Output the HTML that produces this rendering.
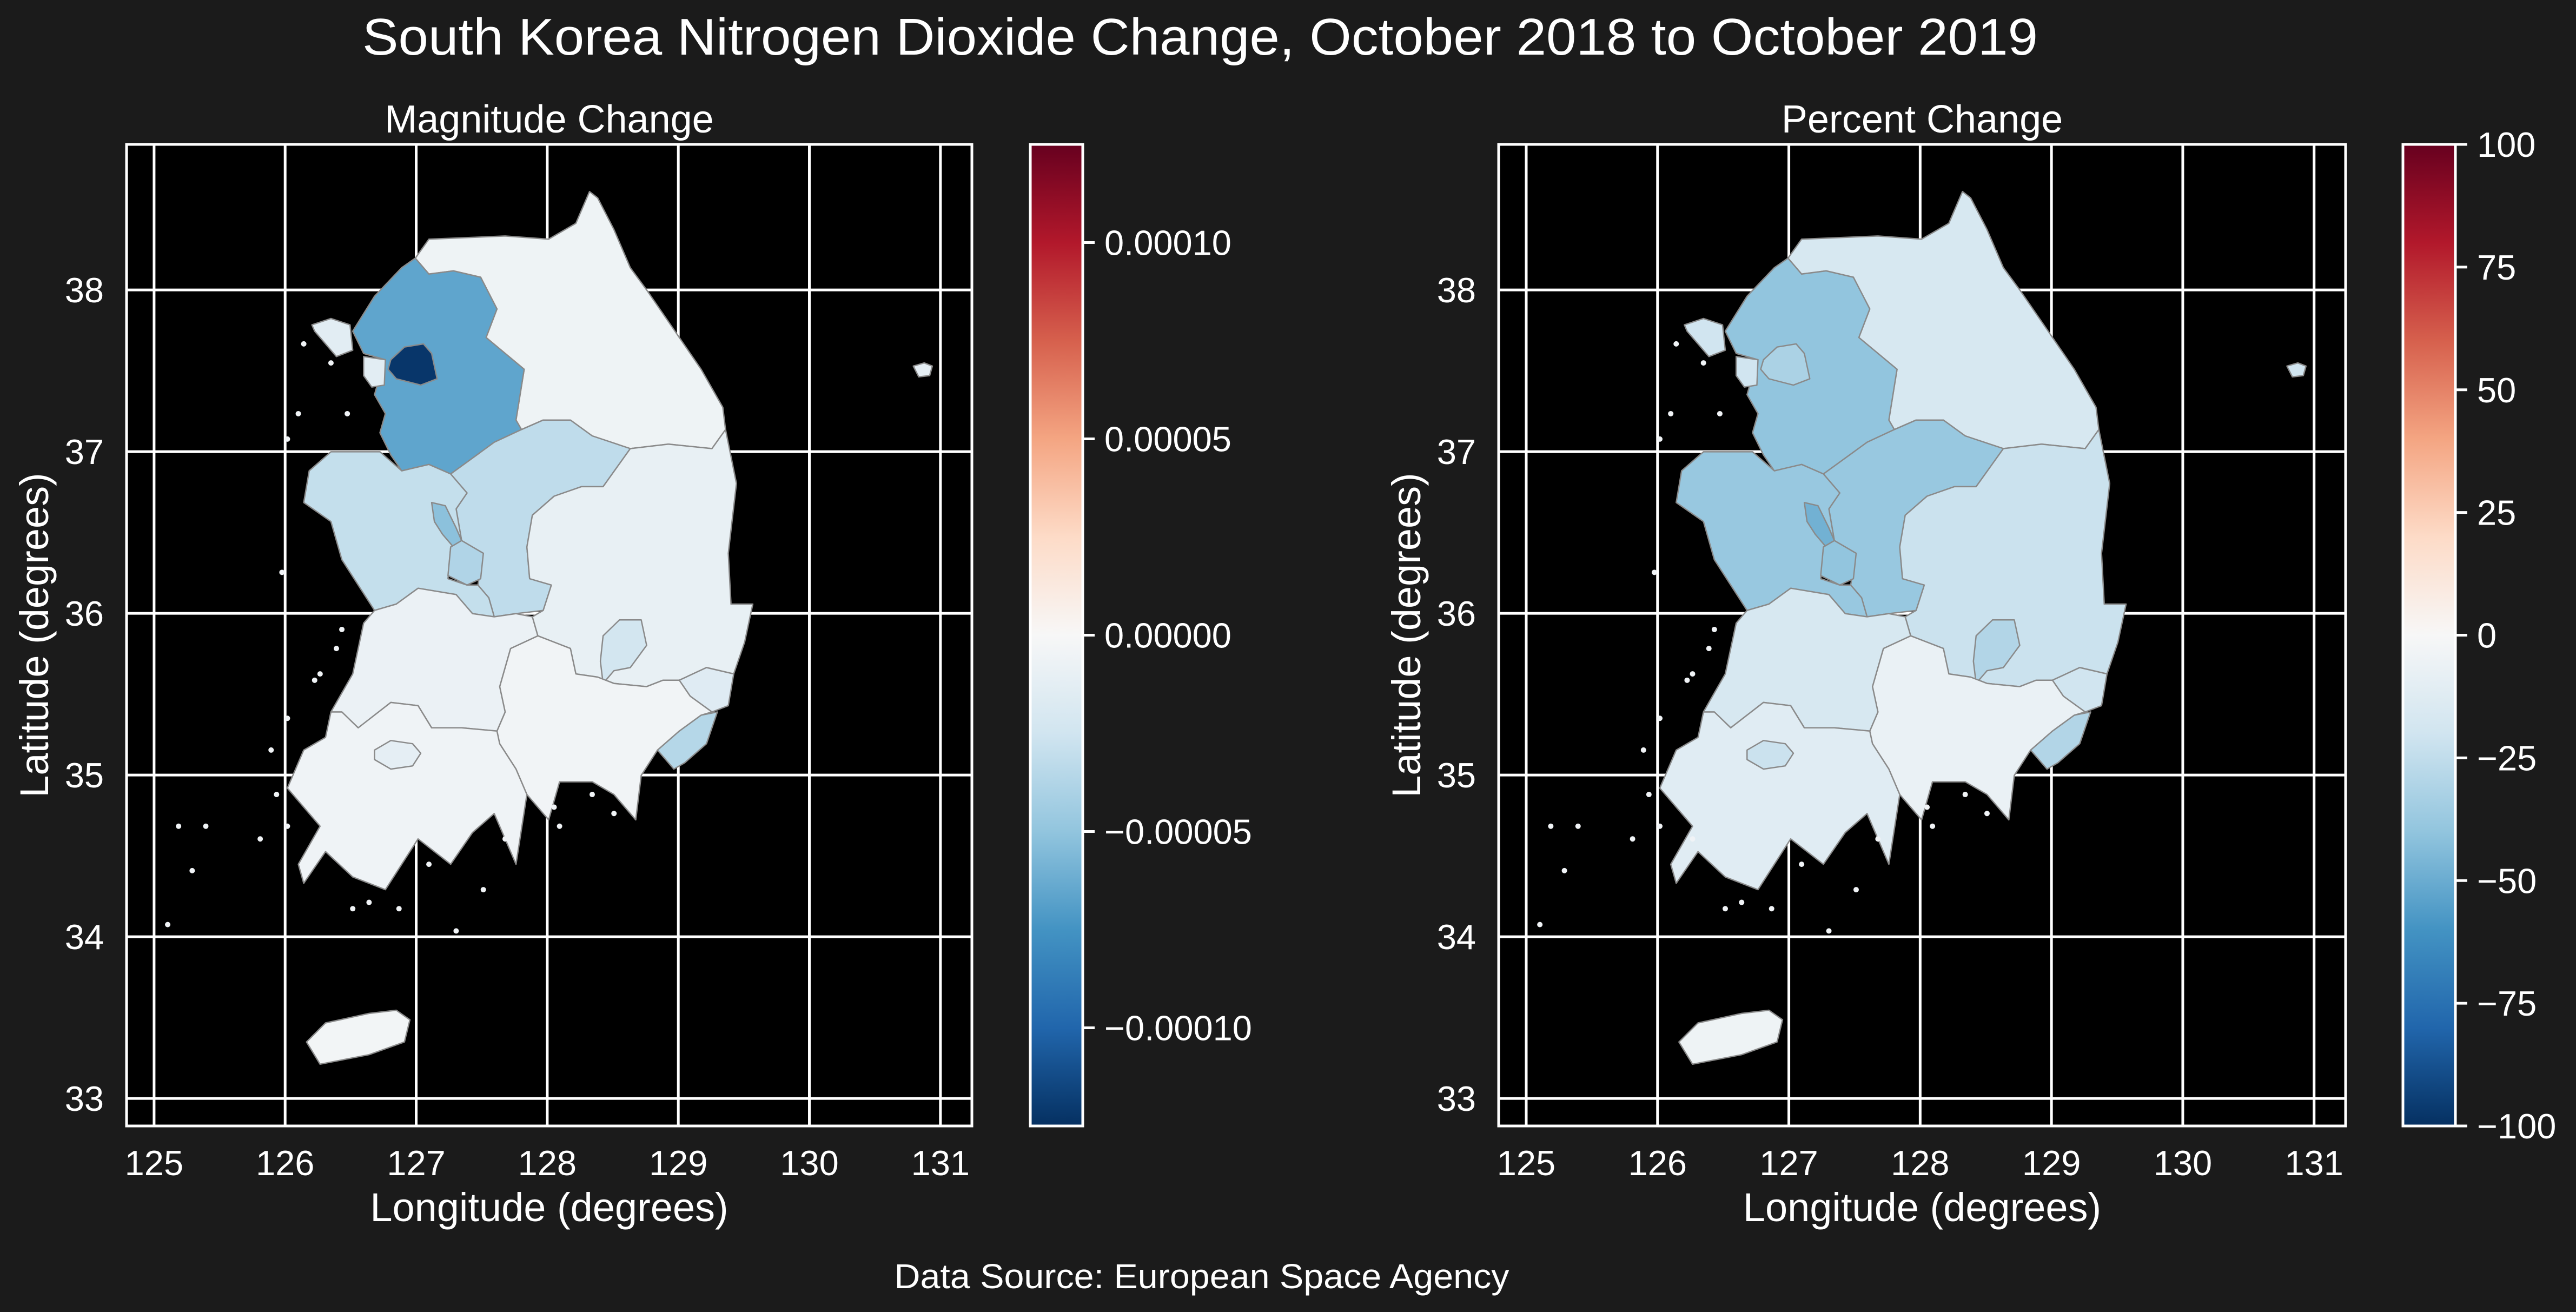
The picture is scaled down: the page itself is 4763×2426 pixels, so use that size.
<!DOCTYPE html>
<html><head><meta charset="utf-8"><style>
html,body{margin:0;padding:0;background:#1b1b1b;}
svg{display:block;font-family:"Liberation Sans",Arial,sans-serif;}
</style></head><body>
<svg id="fig" width="4763" height="2426" viewBox="0 0 4763 2426" xmlns="http://www.w3.org/2000/svg">
<defs>
<linearGradient id="rdbu" x1="0" y1="1" x2="0" y2="0">
<stop offset="0" stop-color="#053061"/><stop offset="0.1" stop-color="#2166ac"/><stop offset="0.2" stop-color="#4393c3"/><stop offset="0.3" stop-color="#92c5de"/><stop offset="0.4" stop-color="#d1e5f0"/><stop offset="0.5" stop-color="#f7f7f7"/><stop offset="0.6" stop-color="#fddbc7"/><stop offset="0.7" stop-color="#f4a582"/><stop offset="0.8" stop-color="#d6604d"/><stop offset="0.9" stop-color="#b2182b"/><stop offset="1" stop-color="#67001f"/>
</linearGradient>
<clipPath id="clipL"><rect x="234" y="267" width="1563" height="1815"/></clipPath>
<clipPath id="clipR"><rect x="2771" y="267" width="1566" height="1815"/></clipPath>
</defs>
<rect x="0" y="0" width="4763" height="2426" fill="#1b1b1b"/>
<text x="2219" y="101" font-size="96" fill="#fff" text-anchor="middle" textLength="3098" lengthAdjust="spacingAndGlyphs">South Korea Nitrogen Dioxide Change, October 2018 to October 2019</text>
<text x="2222" y="2382" font-size="64" fill="#fff" text-anchor="middle" textLength="1137" lengthAdjust="spacingAndGlyphs">Data Source: European Space Agency</text>
<g id="panels"></g>
</svg>
<script>
// Region names and values
const regions = ["gangwon","gyeonggi","seoul","incheon","ganghwa","chungbuk","chungnam","sejong","daejeon","gyeongbuk","daegu","ulsan","busan","gyeongnam","jeonbuk","jeonnam","gwangju","jeju","ulleung"];
const magnitudeValues = [-0.000006,-0.000066,-0.000122,-0.000014,-0.000014,-0.000032,-0.000030,-0.000052,-0.000038,-0.000010,-0.000024,-0.000016,-0.000036,-0.000004,-0.000008,-0.000005,-0.000012,-0.000003,-0.000012];
const percentValues = [-17,-40,-32,-20,-20,-38,-38,-48,-40,-22,-30,-20,-30,-7,-17,-12,-22,-5,-20];
const lonTicks = [125,126,127,128,129,130,131];
const latTicks = [33,34,35,36,37,38];
const magTicks = [-0.0001,-0.00005,0,0.00005,0.0001];
const magTickLabels = ["\u22120.00010","\u22120.00005","0.00000","0.00005","0.00010"];
const pctTicks = [-100,-75,-50,-25,0,25,50,75,100];
const pctTickLabels = ["\u2212100","\u221275","\u221250","\u221225","0","25","50","75","100"];
// Region outlines traced in reference-grid units (gx,gy); converted to lon/lat by gridToLon/gridToLat
const shapes = {
gangwon:[[560,155],[700,150],[780,155],[830,130],[855,80],[870,90],[900,140],[930,200],[960,235],[1020,310],[1060,360],[1100,420],[1105,455],[1080,485],[1000,478],[930,485],[860,465],[820,440],[770,440],[730,455],[720,440],[735,360],[665,310],[685,265],[655,215],[605,205],[560,210],[535,185]],
gyeonggi:[[535,185],[560,210],[605,205],[655,215],[685,265],[665,310],[735,360],[720,440],[730,455],[680,475],[640,500],[600,525],[560,510],[510,520],[490,495],[470,460],[480,430],[460,400],[470,370],[480,345],[440,335],[420,300],[460,245],[510,200]],
seoul:[[490,345],[515,325],[550,320],[565,335],[575,375],[545,385],[500,375],[485,360]],
incheon:[[440,340],[480,345],[478,385],[455,388],[440,370]],
ganghwa:[[345,290],[380,280],[415,290],[420,330],[390,340],[350,300]],
chungbuk:[[600,525],[640,500],[680,475],[730,455],[770,440],[820,440],[860,465],[930,485],[880,545],[840,545],[790,560],[750,590],[740,640],[745,690],[785,700],[770,740],[720,745],[680,750],[670,720],[650,700],[660,650],[620,630],[610,580],[630,555]],
chungnam:[[510,520],[560,510],[600,525],[630,555],[610,580],[620,630],[600,640],[595,690],[630,700],[650,700],[670,720],[680,750],[640,745],[610,715],[540,705],[500,730],[460,740],[430,700],[400,660],[380,600],[330,570],[340,520],[380,490],[470,490]],
sejong:[[565,570],[590,575],[610,610],[620,630],[605,640],[585,620],[570,600]],
daejeon:[[600,640],[620,630],[660,650],[655,690],[630,700],[595,685]],
gyeongbuk:[[930,485],[1000,478],[1080,485],[1105,455],[1125,540],[1110,650],[1115,730],[1155,730],[1140,790],[1120,840],[1070,830],[1020,850],[990,850],[960,860],[900,855],[870,845],[830,840],[820,800],[760,780],[750,750],[770,740],[785,700],[745,690],[740,640],[750,590],[790,560],[840,545],[880,545]],
daegu:[[880,780],[910,755],[950,755],[960,795],[930,830],[900,835],[880,855],[875,820]],
ulsan:[[1020,850],[1070,830],[1120,840],[1110,890],[1080,900],[1040,875]],
busan:[[980,960],[1020,930],[1060,905],[1090,900],[1070,950],[1030,980],[1010,990]],
gyeongnam:[[760,780],[820,800],[830,840],[870,845],[900,855],[960,860],[990,850],[1020,850],[1040,875],[1080,900],[1060,905],[1020,930],[980,960],[950,1000],[940,1070],[900,1030],[860,1010],[800,1010],[780,1070],[740,1030],[720,990],[690,950],[685,930],[700,900],[690,860],[710,800]],
jeonbuk:[[460,740],[500,730],[540,705],[610,715],[640,745],[680,750],[720,745],[750,750],[760,780],[710,800],[690,860],[700,900],[685,930],[620,925],[565,925],[540,890],[490,885],[430,925],[400,900],[380,900],[400,870],[420,840],[430,800],[440,760]],
jeonnam:[[380,900],[400,900],[430,925],[490,885],[540,890],[565,925],[620,925],[685,930],[690,950],[720,990],[740,1030],[720,1140],[680,1060],[640,1090],[600,1140],[540,1100],[480,1180],[420,1160],[370,1120],[330,1170],[320,1140],[360,1080],[300,1020],[330,960],[370,940]],
gwangju:[[460,960],[490,945],[530,950],[545,965],[530,985],[490,990],[460,975]],
jeju:[[335,1420],[370,1390],[450,1375],[500,1370],[525,1385],[515,1420],[450,1440],[360,1455]],
ulleung:[[1450,355],[1470,350],[1485,355],[1480,370],[1460,372]]
};
// small coastal islets (grid units)
const islets = [[300,470],[320,430],[290,680],[300,910],[350,850],[270,960],[280,1030],[300,1080],[150,1080],[100,1080],[125,1150],[80,1235],[420,1210],[505,1210],[610,1245],[790,1050],[860,1030],[900,1060],[560,1140],[450,1200],[360,1100],[250,1100],[700,1100],[660,1180],[400,770],[390,800],[360,840],[410,430],[380,350],[330,320],[800,1080]];
const gridToLon = gx => 125 + (gx - 55) / 240.8;
const gridToLat = gy => 38 - (gy - 235) / 254.8;

const STOPS = ["#053061","#2166ac","#4393c3","#92c5de","#d1e5f0","#f7f7f7","#fddbc7","#f4a582","#d6604d","#b2182b","#67001f"];
function hex(h){return [1,3,5].map(i=>parseInt(h.substr(i,2),16));}
function cmap(t){
  t=Math.max(0,Math.min(1,t));const p=t*10;const i=Math.min(9,Math.floor(p));const f=p-i;
  const a=hex(STOPS[i]),b=hex(STOPS[i+1]);
  return "rgb("+a.map((v,k)=>Math.round(v+(b[k]-v)*f)).join(",")+")";
}
const NS="http://www.w3.org/2000/svg";
const root=document.getElementById("panels");
function mk(tag,attrs,parent){const e=document.createElementNS(NS,tag);for(const k in attrs)e.setAttribute(k,attrs[k]);(parent||root).appendChild(e);return e;}

const LON0=124.79, LON1=131.24, LAT0=32.83, LAT1=38.90;
function panel(cfg){
  const {x0,x1,y0,y1}=cfg;
  const sx=lon=>x0+(lon-LON0)/(LON1-LON0)*(x1-x0);
  const sy=lat=>y1-(lat-LAT0)/(LAT1-LAT0)*(y1-y0);
  const g=mk("g",{});
  
  
  const bg=mk("rect",{x:x0,y:y0,width:x1-x0,height:y1-y0,fill:"#000"},g);
  
  
  const grid=mk("g",{stroke:"#fff","stroke-width":5},g);
  
  
  lonTicks.forEach(v=>{mk("line",{x1:sx(v),x2:sx(v),y1:y0,y2:y1},grid);});
  latTicks.forEach(v=>{mk("line",{x1:x0,x2:x1,y1:sy(v),y2:sy(v)},grid);});
  const map=mk("g",{"clip-path":"url(#"+cfg.clip+")"},g);
  
  
  regions.forEach((r,i)=>{
    const pts=shapes[r].map(p=>sx(gridToLon(p[0])).toFixed(1)+","+sy(gridToLat(p[1])).toFixed(1)).join(" ");
    const pol=mk("polygon",{points:pts,fill:cmap((cfg.values[i]-cfg.vmin)/(cfg.vmax-cfg.vmin)),stroke:"#8a8a8a","stroke-width":2.5,"stroke-linejoin":"round"},map);
    
    
  });
  islets.forEach(p=>{
    const c=mk("circle",{cx:sx(gridToLon(p[0])),cy:sy(gridToLat(p[1])),r:5,fill:"#f0f3f6"},map);
    
    
  });
  const fr=mk("rect",{x:x0,y:y0,width:x1-x0,height:y1-y0,fill:"none",stroke:"#fff","stroke-width":5},g);
  
  
  lonTicks.forEach(v=>{
    const t=mk("text",{x:sx(v),y:y1+91,"font-size":65,fill:"#fff","text-anchor":"middle"},g);t.textContent=v;
    
    
  });
  latTicks.forEach(v=>{
    const t=mk("text",{x:x0-42,y:sy(v)+23,"font-size":65,fill:"#fff","text-anchor":"end"},g);t.textContent=v;
    
    
  });
  const xl=mk("text",{x:(x0+x1)/2,y:y1+176,"font-size":74,fill:"#fff","text-anchor":"middle"},g);xl.textContent="Longitude (degrees)";
  
  
  const yl=mk("text",{x:0,y:0,"font-size":74,fill:"#fff","text-anchor":"middle",transform:"translate("+(x0-145)+","+((y0+y1)/2)+") rotate(-90)"},g);yl.textContent="Latitude (degrees)";
  
  
  const tl=mk("text",{x:(x0+x1)/2,y:y0-22,"font-size":72,fill:"#fff","text-anchor":"middle"},g);tl.textContent=cfg.title;
  
  
  // colorbar
  const cb=mk("g",{},g);
  
  
  const cbx0=cfg.cbx, cbx1=cfg.cbx+97;
  mk("rect",{x:cbx0,y:y0,width:97,height:y1-y0,fill:"url(#rdbu)",stroke:"#fff","stroke-width":5},cb);
  const cy=v=>y1-(v-cfg.vmin)/(cfg.vmax-cfg.vmin)*(y1-y0);
  cfg.ticks.forEach((v,i)=>{
    mk("line",{x1:cbx1,x2:cbx1+22,y1:cy(v),y2:cy(v),stroke:"#fff","stroke-width":5},cb);
    const t=mk("text",{x:cbx1+40,y:cy(v)+23,"font-size":65,fill:"#fff"},cb);t.textContent=cfg.tickLabels[i];
    
    
  });
}
panel({name:"magnitude",x0:234,x1:1797,y0:267,y1:2082,clip:"clipL",title:"Magnitude Change",values:magnitudeValues,vmin:-0.000125,vmax:0.000125,cbx:1905,ticks:magTicks,tickLabels:magTickLabels});
panel({name:"percent",x0:2771,x1:4337,y0:267,y1:2082,clip:"clipR",title:"Percent Change",values:percentValues,vmin:-100,vmax:100,cbx:4443,ticks:pctTicks,tickLabels:pctTickLabels});
</script>
</body></html>
